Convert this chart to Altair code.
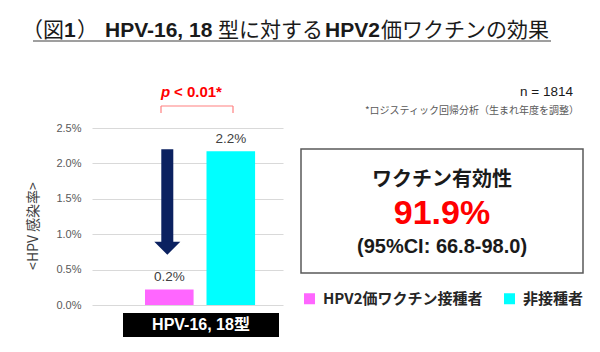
import altair as alt
import pandas as pd

# ---------------- data ----------------
groups = ["HPV2価ワクチン接種者", "非接種者"]
rates = [0.0022, 0.0217]
bar_colors = ["#ff66ff", "#00ffff"]
y_ticks = [0.0, 0.005, 0.010, 0.015, 0.020, 0.025]
category_label = "HPV-16, 18型"
arrow_from = [0.0220]
arrow_to = [0.0088]
arrow_head = [0.0080]
title_parts = ["（図", "1", "）", "HPV-16, 18", "型に対する", "HPV2", "価ワクチンの効果"]
title_bold = [False, True, False, True, False, True, False]
p_parts = ["p", "< 0.01*"]
n_text = "n = 1814"
footnote = "*ロジスティック回帰分析（生まれ年度を調整）"
box_title = "ワクチン有効性"
efficacy = "91.9%"
ci_text = "(95%CI: 66.8-98.0)"
y_title = "<HPV 感染率>"

# ---------------- layout ----------------
PX, PY = 92, 128          # plot origin in the page
W, H = 191, 177
NAVY = "#0b2160"
LAT = "Liberation Sans"
CJK = "Noto Sans CJK JP"

df = pd.DataFrame({"group": groups, "rate": rates})

x_scale = alt.Scale(domain=groups, paddingInner=0.21,
                    paddingOuter=0.658, align=0.655)
y_scale = alt.Scale(domain=[0, 0.025], nice=False)
y_axis = alt.Axis(values=y_ticks, format=".1%", title=None,
                  domain=False, ticks=False, labelPadding=11,
                  labelFont=LAT, labelFontSize=11, labelOverlap=False,
                  labelColor="#595959", gridColor="#d9d9d9", gridWidth=1)

x_enc = alt.X("group:N", sort=groups, axis=None, scale=x_scale)


def yq(field):
    return alt.Y(field, scale=y_scale, axis=y_axis)


bars = alt.Chart(df).mark_bar().encode(
    x=x_enc, y=yq("rate:Q"),
    color=alt.Color("group:N",
                    scale=alt.Scale(domain=groups, range=bar_colors),
                    legend=alt.Legend(title=None, orient="none",
                                      legendX=210, legendY=163,
                                      direction="horizontal", columns=2,
                                      symbolType="square", symbolSize=121,
                                      symbolStrokeWidth=0, symbolOpacity=1,
                                      labelFont=CJK, labelFontSize=15,
                                      labelFontWeight="bold",
                                      labelColor="#262626", labelOffset=6,
                                      columnPadding=19, padding=0)),
)

bar_labels = alt.Chart(df).mark_text(
    dy=-12, baseline="middle", font=LAT, fontSize=13.5, color="#404040"
).encode(x=x_enc, y=yq("rate:Q"), text=alt.Text("rate:Q", format=".1%"))

arrow_df = pd.DataFrame({"group": [groups[0]], "rate": arrow_from,
                         "rate2": arrow_to, "head": arrow_head})
arrow_shaft = alt.Chart(arrow_df).mark_rule(
    strokeWidth=12, color=NAVY, xOffset=-2, strokeCap="butt"
).encode(x=x_enc, y=yq("rate:Q"), y2="rate2:Q")
arrow_tip = alt.Chart(arrow_df).mark_point(
    shape="M-1,-0.5L1,-0.5L0,0.5Z", size=676, filled=True, opacity=1,
    color=NAVY, xOffset=-2
).encode(x=x_enc, y=yq("head:Q"))


def txt(text, x, y, **kw):
    return alt.Chart(pd.DataFrame({"t": [text]})).mark_text(**kw).encode(
        x=alt.value(x - PX), y=alt.value(y - PY), text="t:N")


def rule(x1, y1, x2, y2, **kw):
    return alt.Chart(pd.DataFrame({"k": [0]})).mark_rule(**kw).encode(
        x=alt.value(x1 - PX), x2=alt.value(x2 - PX),
        y=alt.value(y1 - PY), y2=alt.value(y2 - PY))


def rect(x1, y1, x2, y2, **kw):
    return alt.Chart(pd.DataFrame({"k": [0]})).mark_rect(**kw).encode(
        x=alt.value(x1 - PX), x2=alt.value(x2 - PX),
        y=alt.value(y1 - PY), y2=alt.value(y2 - PY))


layers = [bars, bar_labels, arrow_shaft, arrow_tip]

# title
title_x = [22, 64, 77, 105, 218, 325, 381]
for part, bold, tx in zip(title_parts, title_bold, title_x):
    layers.append(txt(part, tx, 37, align="left", baseline="alphabetic",
                      font=LAT if bold else CJK, fontSize=21,
                      fontWeight="bold" if bold else "normal",
                      color="#1a1a1a"))
layers.append(rule(33, 41, 551, 41, color="#7f7f7f", strokeWidth=1.5))

# y title
layers.append(txt(y_title, 34, 226, angle=270, align="center",
                  baseline="middle", font=CJK, fontSize=14,
                  color="#404040"))

# significance bracket
BR = "#ff8080"
layers.append(rule(161, 106, 233, 106, color=BR, strokeWidth=1.2))
layers.append(rule(161, 106, 161, 113, color=BR, strokeWidth=1.2))
layers.append(rule(233, 106, 233, 113, color=BR, strokeWidth=1.2))
layers.append(txt(p_parts[0], 161, 92, align="left", baseline="middle",
                  font=LAT, fontSize=15, fontWeight="bold",
                  fontStyle="italic", color="#ff0000"))
layers.append(txt(p_parts[1], 174, 92, align="left", baseline="middle",
                  font=LAT, fontSize=15, fontWeight="bold",
                  color="#ff0000"))

# n and footnote
layers.append(txt(n_text, 573, 92, align="right", baseline="middle",
                  font=LAT, fontSize=13.5, color="#1a1a1a"))
layers.append(txt(footnote, 579, 111, align="right", baseline="middle",
                  font=CJK, fontSize=10, color="#595959"))

# efficacy box
layers.append(rect(301, 149, 583, 273, fill="white", stroke="#595959",
                   strokeWidth=1.5))
layers.append(txt(box_title, 442, 180, align="center", baseline="middle",
                  font=CJK, fontSize=20, fontWeight="bold",
                  color="#1a1a1a"))
layers.append(txt(efficacy, 442, 214, align="center", baseline="middle",
                  font=LAT, fontSize=34, fontWeight="bold",
                  color="#ff0000"))
layers.append(txt(ci_text, 442, 247, align="center", baseline="middle",
                  font=LAT, fontSize=20, fontWeight="bold",
                  color="#1a1a1a"))

# category label box
layers.append(rect(123, 313, 279, 337, fill="black"))
layers.append(txt(category_label, 201, 325, align="center",
                  baseline="middle", font=f"{LAT}, {CJK}", fontSize=16,
                  fontWeight="bold", color="white"))

chart = alt.layer(*layers).properties(
    width=W, height=H,
    padding={"left": PX, "top": PY, "right": 600 - PX - W,
             "bottom": 352 - PY - H},
    autosize=alt.AutoSizeParams(type="none"),
    background="white",
).configure_view(stroke=None)

chart.save("out.html", embed_options={"renderer": "svg", "actions": False})
